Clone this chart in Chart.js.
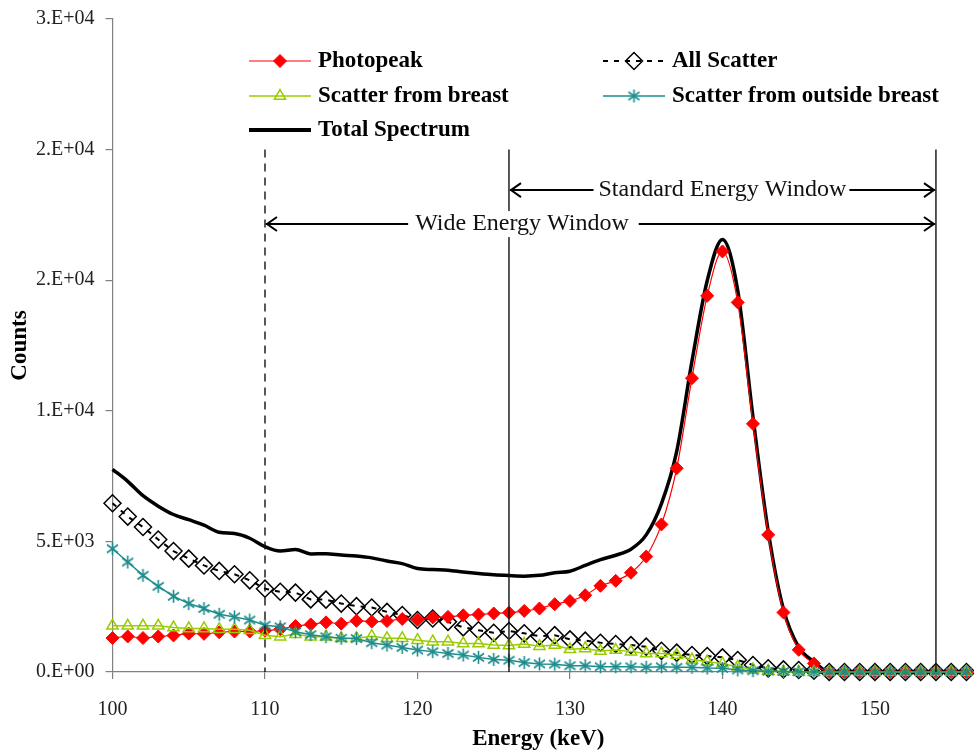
<!DOCTYPE html>
<html><head><meta charset="utf-8">
<script src="https://cdn.jsdelivr.net/npm/chart.js@4.4.1/dist/chart.umd.min.js"></script>
<style>html,body{margin:0;padding:0;background:#fff;}canvas{display:block;}</style>
</head><body>
<canvas id="c" width="974" height="750"></canvas>
<script>
// ---- DATA ----
const energy = [100,101,102,103,104,105,106,107,108,109,110,111,112,113,114,115,116,117,118,119,
  120,121,122,123,124,125,126,127,128,129,130,131,132,133,134,135,136,137,138,139,
  140,141,142,143,144,145,146,147,148,149,150,151,152,153,154,155,156];
const photopeak = [1300,1360,1300,1360,1400,1470,1460,1520,1550,1550,1580,1640,1760,1820,1900,1850,1960,1930,1950,2030,
  2000,2090,2110,2170,2200,2240,2270,2340,2430,2595,2720,2940,3300,3490,3800,4420,5650,7800,11250,14400,
  16100,14150,9500,5250,2280,850,330,0,0,0,0,0,0,0,0,0,0];
const allScatter = [6460,5950,5550,5070,4630,4340,4080,3870,3740,3510,3190,3070,3040,2780,2770,2620,2520,2470,2300,2180,
  1990,2050,1920,1710,1600,1500,1570,1480,1370,1410,1250,1200,1120,1070,1030,970,810,740,650,610,
  560,460,270,140,100,75,50,0,0,0,0,0,0,0,0,0,0];
const scatterBreast = [1770,1770,1770,1770,1700,1670,1670,1640,1640,1600,1410,1350,1450,1350,1350,1290,1290,1370,1290,1290,
  1220,1160,1160,1090,1090,1030,1010,1070,990,1030,870,900,800,840,780,710,710,650,470,400,
  320,200,100,40,15,0,0,0,0,0,0,0,0,0,0,0,0];
const scatterOutside = [4720,4210,3700,3280,2900,2620,2430,2210,2110,1990,1790,1730,1540,1430,1350,1290,1280,1120,1030,940,
  840,780,710,650,560,480,450,360,310,300,240,240,200,200,200,180,200,180,180,150,
  140,80,50,30,20,10,0,0,0,0,0,0,0,0,0,0,0];
const totalSpectrum = [7760,7300,6750,6350,6030,5830,5620,5350,5300,5120,4800,4630,4690,4520,4530,4480,4440,4370,4250,4150,
  3960,3920,3900,3830,3770,3720,3690,3670,3700,3800,3860,4080,4300,4470,4700,5250,6450,8450,11900,14980,
  16560,14610,9770,5390,2400,950,400,0,0,0,0,0,0,0,0,0,0];
const xTickValues = [100,110,120,130,140,150];
const xTickLabels = ['100','110','120','130','140','150'];
const yTickLabels = ['0.E+00','5.E+03','1.E+04','2.E+04','2.E+04','3.E+04'];
// energy windows (keV) and annotation levels (counts)
const wideWindowStart = 110;
const standardWindowStart = 126;
const windowEnd = 154;
const windowLineTop = 20000;
const standardArrowLevel = 18450;
const wideArrowLevel = 17150;
const wideLabelCenter = 126.85;

// ---- STYLE ----
const TEAL = '#1E8C8C', GREEN = '#99CC00', RED = '#FF0000', AXIS = '#808080';
const SERIF = '"Liberation Serif", "DejaVu Serif", serif';

function makeStar(){
  const s = 15, cv = document.createElement('canvas'); cv.width = s; cv.height = s;
  const g = cv.getContext('2d'); g.strokeStyle = TEAL; g.lineWidth = 1.6;
  g.beginPath();
  g.moveTo(7.5,1); g.lineTo(7.5,14);
  g.moveTo(2,3.5); g.lineTo(13,11.5);
  g.moveTo(2,11.5); g.lineTo(13,3.5);
  g.stroke();
  return cv;
}
const starImg = makeStar();
const pts = arr => energy.map((e,i)=>({x:e, y:arr[i]}));

const windowsPlugin = {
  id:'windows',
  afterDatasetsDraw(chart){
    const c = chart.ctx, x = chart.scales.x, y = chart.scales.y;
    const top = y.getPixelForValue(windowLineTop), bottom = y.getPixelForValue(0);
    const xw = x.getPixelForValue(wideWindowStart), xs = x.getPixelForValue(standardWindowStart), xe = x.getPixelForValue(windowEnd);
    c.save();
    c.strokeStyle = '#111'; c.lineWidth = 1.4;
    c.setLineDash([8,6]);
    c.beginPath(); c.moveTo(xw, top); c.lineTo(xw, bottom); c.stroke();
    c.setLineDash([]);
    [xs, xe].forEach(px=>{ c.beginPath(); c.moveTo(px, top); c.lineTo(px, bottom); c.stroke(); });
    function arrow(x1, x2, py){
      c.lineWidth = 2; c.strokeStyle = '#000';
      c.beginPath(); c.moveTo(x1+1, py); c.lineTo(x2-1, py); c.stroke();
      c.beginPath(); c.moveTo(x1+12, py-7); c.lineTo(x1+2, py); c.lineTo(x1+12, py+7); c.stroke();
      c.beginPath(); c.moveTo(x2-12, py-7); c.lineTo(x2-2, py); c.lineTo(x2-12, py+7); c.stroke();
    }
    const ys = y.getPixelForValue(standardArrowLevel), yw = y.getPixelForValue(wideArrowLevel);
    arrow(xs, xe, ys);
    arrow(xw, xe, yw);
    function label(t, cx, py, padL, padR){
      c.font = '24px ' + SERIF;
      const w = c.measureText(t).width;
      c.fillStyle = '#fff';
      c.fillRect(cx - w/2 - padL, py - 13, w + padL + padR, 26);
      c.fillStyle = '#111'; c.textAlign = 'center'; c.textBaseline = 'middle';
      c.fillText(t, cx, py);
    }
    label('Standard Energy Window', (xs+xe)/2, ys, 5, 3);
    label('Wide Energy Window', x.getPixelForValue(wideLabelCenter), yw, 7, 10);
    c.restore();
  }
};

const legendPlugin = {
  id:'customLegend',
  afterDraw(chart){
    const c = chart.ctx;
    const items = [
      {ds:2, x:249, y:61}, {ds:3, x:603, y:61},
      {ds:1, x:249, y:96}, {ds:0, x:603, y:96},
      {ds:4, x:249, y:130}
    ];
    const len = 62;
    items.forEach(it=>{
      const d = chart.data.datasets[it.ds];
      c.save();
      c.strokeStyle = d.borderColor; c.lineWidth = it.ds===4 ? 4 : d.borderWidth;
      c.setLineDash(d.borderDash || []);
      c.beginPath(); c.moveTo(it.x, it.y); c.lineTo(it.x+len, it.y); c.stroke();
      c.setLineDash([]);
      if (d.pointRadius > 0){
        c.fillStyle = d.pointBackgroundColor || 'rgba(0,0,0,0)';
        c.strokeStyle = d.pointBorderColor || d.borderColor;
        c.lineWidth = d.pointBorderWidth || 1;
        Chart.helpers.drawPoint(c, {pointStyle:d.pointStyle, radius:d.pointRadius, rotation:0, borderWidth:d.pointBorderWidth||1}, it.x+len/2, it.y);
      }
      c.fillStyle = '#000'; c.font = 'bold 23px ' + SERIF; c.textBaseline = 'middle'; c.textAlign = 'left';
      c.fillText(d.label, it.x+len+7, it.y);
      c.restore();
    });
  }
};

function zeroPad(s){ s.paddingLeft = 0; s.paddingRight = 0; s.paddingTop = 0; s.paddingBottom = 0; }

new Chart(document.getElementById('c').getContext('2d'), {
  type:'line',
  data:{datasets:[
    {label:'Scatter from outside breast', data:pts(scatterOutside), borderColor:TEAL, borderWidth:1.5,
     pointStyle:starImg, pointRadius:7, pointBorderColor:TEAL, pointBackgroundColor:'rgba(0,0,0,0)', pointBorderWidth:1.5, clip:false},
    {label:'Scatter from breast', data:pts(scatterBreast), borderColor:GREEN, borderWidth:1.5,
     pointStyle:'triangle', pointRadius:6.5, pointBorderColor:GREEN, pointBackgroundColor:'rgba(0,0,0,0)', pointBorderWidth:1.5, clip:false},
    {label:'Photopeak', data:pts(photopeak), borderColor:RED, borderWidth:1.2, cubicInterpolationMode:'monotone',
     pointStyle:'rectRot', pointRadius:6.5, pointBorderColor:RED, pointBackgroundColor:RED, pointBorderWidth:1, clip:false},
    {label:'All Scatter', data:pts(allScatter), borderColor:'#000', borderWidth:2, borderDash:[5,6],
     pointStyle:'rectRot', pointRadius:8.5, pointBorderColor:'#000', pointBackgroundColor:'rgba(0,0,0,0)', pointBorderWidth:1.5, clip:false},
    {label:'Total Spectrum', data:pts(totalSpectrum), borderColor:'#000', borderWidth:3.5, cubicInterpolationMode:'monotone',
     pointRadius:0, clip:false}
  ]},
  options:{
    responsive:false, animation:false, devicePixelRatio:1,
    layout:{padding:{top:19, left:0, right:0, bottom:0}},
    plugins:{legend:{display:false}, tooltip:{enabled:false}},
    elements:{line:{fill:false}},
    scales:{
      x:{type:'linear', min:100, max:155.84,
        afterBuildTicks:s=>{ s.ticks = xTickValues.map(v=>({value:v})); },
        afterFit:s=>{ s.height = 78; zeroPad(s); },
        border:{color:AXIS, width:1.2},
        grid:{drawOnChartArea:false, drawTicks:true, tickLength:7, color:AXIS, lineWidth:1.2},
        ticks:{font:{family:SERIF, size:20}, color:'#222', padding:19, maxRotation:0, autoSkip:false,
          callback:(v,i)=>xTickLabels[i]},
        title:{display:true, text:'Energy (keV)', color:'#000', font:{family:SERIF, size:23, weight:'bold'}, padding:{top:0, bottom:-3}}
      },
      y:{type:'linear', min:0, max:25000,
        afterFit:s=>{ s.width = 112.5; zeroPad(s); },
        border:{color:AXIS, width:1.2},
        grid:{drawOnChartArea:false, drawTicks:true, tickLength:7, color:AXIS, lineWidth:1.2},
        ticks:{stepSize:5000, font:{family:SERIF, size:20}, color:'#222', padding:11,
          callback:(v,i)=>yTickLabels[i]},
        title:{display:true, text:'Counts', color:'#000', font:{family:SERIF, size:23, weight:'bold'}, padding:{top:6, bottom:0}}
      }
    }
  },
  plugins:[windowsPlugin, legendPlugin]
});
</script>
</body></html>
